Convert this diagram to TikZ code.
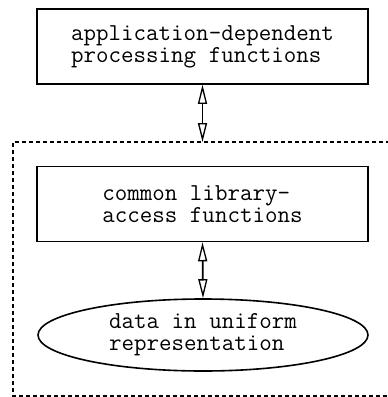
\documentclass[tikz,border=0pt]{standalone}
\usepackage{fontspec}
\usetikzlibrary{arrows.meta,shapes.geometric}
\begin{document}
\begin{tikzpicture}[x=1pt,y=-1pt,
  lbl/.style={font=\fontsize{24.3}{22}\selectfont\ttfamily, align=left, inner sep=0pt},
  box/.style={draw, line width=1.6pt, rectangle, minimum width=331pt, minimum height=75pt, lbl},
  oval/.style={draw, line width=1.6pt, ellipse, minimum width=330pt, minimum height=72pt, inner sep=0pt, lbl},
  link/.style={line width=1.7pt, {Triangle[open,length=19pt,width=9pt,line width=1.3pt]}-{Triangle[open,length=19pt,width=9pt,line width=1.3pt]}},
  region/.style={line width=1.3pt, dash pattern=on 4pt off 3pt}
]
\useasboundingbox (0,0) rectangle (388,397);
\node[box] (app) at (202.5,46.5) {application-dependent\\processing functions};
\node[box] (lib) at (202.5,204) {common library-\\access functions};
\node[oval] (data) at (203,335) {data in uniform\\representation};
\coordinate (rtop) at (202.5,142);
\draw[region] (390,142) -- (13,142) -- (13,396) -- (390,396);
\draw[link] (app.south) -- (rtop);
\draw[link] (lib.south) -- (data.north);
\end{tikzpicture}
\end{document}
